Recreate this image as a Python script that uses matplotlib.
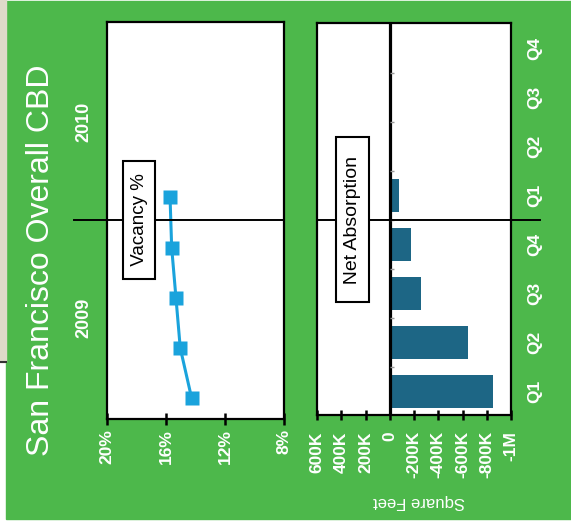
import numpy as np
import matplotlib
matplotlib.use("Agg")
from matplotlib import pyplot as plt
from matplotlib.patches import Rectangle
from matplotlib.lines import Line2D
from matplotlib.transforms import blended_transform_factory

# quarterly series, Q1 2009 .. Q4 2010 (only the first five are reported)
quarters = ["Q1", "Q2", "Q3", "Q4", "Q1", "Q2", "Q3", "Q4"]
years = ["2009", "2010"]
vacancy = [14.26, 15.03, 15.32, 15.61, 15.72]          # percent
absorption = [-850e3, -645e3, -260e3, -178e3, -80e3]    # square feet

vac_ticks = [20, 16, 12, 8]
vac_labels = ["20%", "16%", "12%", "8%"]
abs_ticks = [600e3, 400e3, 200e3, 0, -200e3, -400e3, -600e3, -800e3, -1e6]
abs_labels = ["600K", "400K", "200K", "0", "-200K", "-400K", "-600K", "-800K", "-1M"]

GREEN = "#4db84b"
BLUE = "#1aa3dc"
TEAL = "#1d6685"

plt.rcParams["font.family"] = ["Liberation Sans", "DejaVu Sans"]

W, H = 571, 527
fig = plt.figure(figsize=(W / 100, H / 100), dpi=100)
fig.patch.set_facecolor("white")

# panel background and the strip of map peeking out at the left
fig.add_artist(Rectangle((6 / W, 8 / H), 1 - 6 / W, 1 - 9 / H,
                         transform=fig.transFigure, color=GREEN, zorder=0))
fig.add_artist(Rectangle((0, 1 - 362 / H), 6 / W, 362 / H,
                         transform=fig.transFigure, color="#dedaca", zorder=0))
fig.add_artist(Line2D([0, 6 / W], [1 - 362 / H] * 2, transform=fig.transFigure,
                      color="#333333", lw=1.5, zorder=1))

ax1 = fig.add_axes([106.7 / W, 1 - 419.3 / H, 177.6 / W, 397.6 / H])
ax2 = fig.add_axes([317 / W, 1 - 414.5 / H, 194 / W, 391.8 / H])

pos = np.arange(len(quarters))

# vacancy line
ax1.plot(vacancy, pos[:len(vacancy)], color=BLUE, lw=2.2, marker="s",
         ms=10, mec="none", zorder=3)
ax1.set_xlim(20, 8)
ax1.set_ylim(-0.42, 7.5)
ax1.set_xticks(vac_ticks)
ax1.set_xticklabels(vac_labels)
ax1.set_yticks([])

# net absorption bars
ax2.barh(pos[:len(absorption)], absorption, height=0.67, color=TEAL, zorder=2)
ax2.axvline(0, color="black", lw=2.3, zorder=3)
ax2.plot(np.zeros(len(quarters) - 1), pos[:-1] + 0.5, ls="none", marker=1,
         ms=3, color="#999999", zorder=3)
ax2.set_xlim(600e3, -1e6)
ax2.set_ylim(-0.47, 7.52)
ax2.set_xticks(abs_ticks)
ax2.set_xticklabels(abs_labels)
ax2.set_yticks(pos)
ax2.set_yticklabels(quarters)
ax2.yaxis.tick_right()

for ax in (ax1, ax2):
    ax.set_facecolor("white")
    for s in ax.spines.values():
        s.set_linewidth(1.6)
        s.set_color("black")

ax1.tick_params(axis="x", direction="inout", length=9, width=1.8, pad=2.5,
                labelcolor="white", labelsize=12.5, labelrotation=90)
ax2.tick_params(axis="x", direction="inout", length=7, width=1.8, pad=8.5,
                labelcolor="white", labelsize=12.5, labelrotation=90)
ax2.tick_params(axis="y", length=0, pad=12, labelcolor="white", labelsize=12.5,
                labelrotation=90)
for lab in ax1.get_xticklabels() + ax2.get_xticklabels() + ax2.get_yticklabels():
    lab.set_fontweight("bold")
for lab in ax2.get_yticklabels():
    lab.set_va("center")

# year divider and labels share the quarter scale of the bar panel
tr1 = blended_transform_factory(ax1.transAxes, ax2.transData)
tr2 = blended_transform_factory(ax2.transAxes, ax2.transData)
ax1.plot([-0.184, 1], [3.5, 3.5], transform=tr1, color="black", lw=1.4,
         clip_on=False, zorder=4)
ax2.plot([0, 1.15], [3.5, 3.5], transform=tr2, color="black", lw=1.4,
         clip_on=False, zorder=4)
for i, yr in enumerate(years):
    ax1.text(-0.128, 1.5 + 4 * i, yr, transform=tr1, rotation=90, color="white",
             fontsize=13, fontweight="bold", ha="center", va="center")

box = dict(boxstyle="square,pad=0.4", fc="white", ec="black", lw=1.5)
ax1.text(0.182, 3.5, " Vacancy % ", transform=tr1, rotation=90, fontsize=13.5,
         ha="center", va="center", bbox=box, zorder=5)
ax2.text(0.182, 3.5, "  Net Absorption  ", transform=tr2, rotation=90,
         fontsize=14, ha="center", va="center", bbox=box, zorder=5)

ax2.text(0.526, -0.223, "Square Feet", transform=ax2.transAxes, rotation=180,
         color="white", fontsize=12, ha="center", va="center")

fig.text(41 / W, 1 - 260 / H, "San Francisco Overall CBD", rotation=90,
         color="white", fontsize=23, ha="center", va="center")

fig.savefig("out.png", dpi=100, facecolor=fig.get_facecolor())
